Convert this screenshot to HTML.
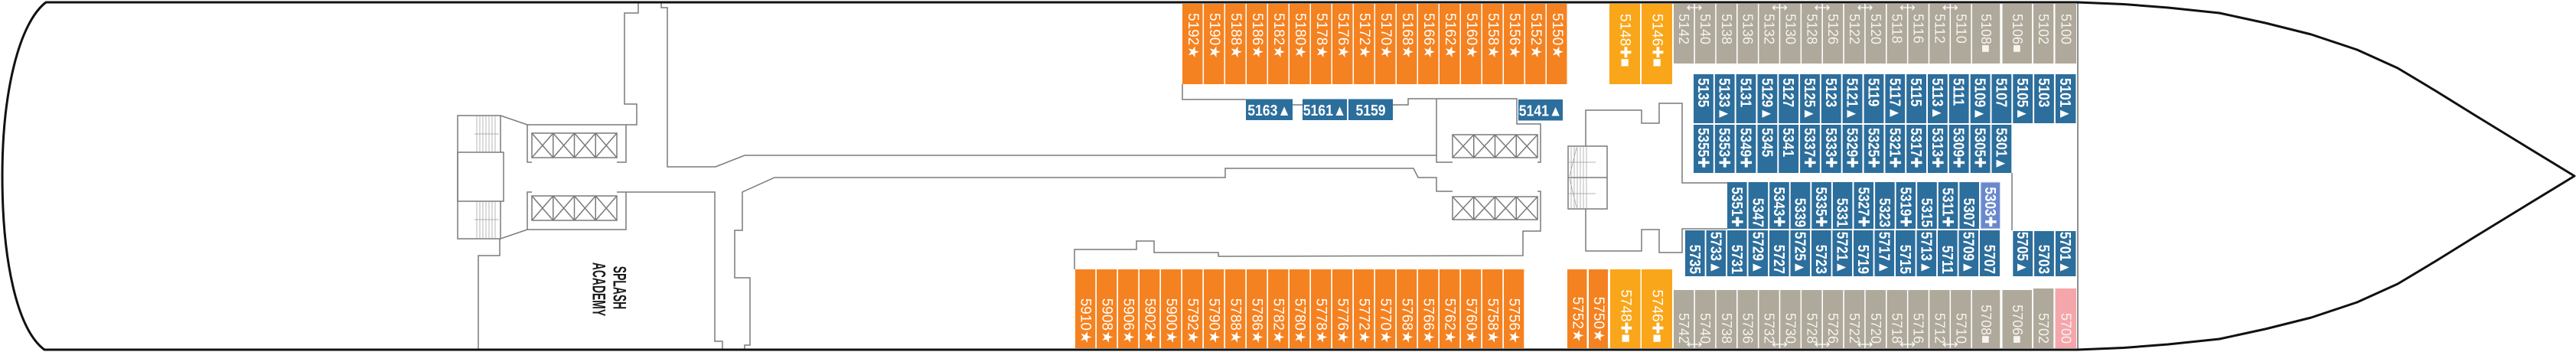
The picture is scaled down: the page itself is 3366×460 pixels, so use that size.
<!DOCTYPE html>
<html><head><meta charset="utf-8"><style>
html,body{margin:0;padding:0;background:#fff}
svg{display:block}
</style></head><body>
<svg width="3366" height="460" viewBox="0 0 3366 460" xmlns="http://www.w3.org/2000/svg">
<style>
.o{fill:#F58220}.y{fill:#FAA61A}.g{fill:#AFA99B}.b{fill:#2C6E9C}.p{fill:#F4A6AB}.h{fill:#6A89CD}
text{font-family:"Liberation Sans","DejaVu Sans",sans-serif;fill:#fff;dominant-baseline:central}
.t19 text{font-size:19px}
.t18 text{font-size:18px;fill:#F6F4EE}
.tb text{font-size:20px;font-weight:bold}
.tm text{font-size:20px;font-weight:bold;text-anchor:middle}
.e text{text-anchor:end}
.dk{fill:#1a1a1a;font-weight:bold;font-size:24px;text-anchor:middle}
.ln{fill:none;stroke:#7a7a7a;stroke-width:1.5}
.st{fill:none;stroke:#9a9a9a;stroke-width:0.7}
.ar{fill:none;stroke:#fff;stroke-width:1.3}
</style>
<rect width="3366" height="460" fill="#fff"/>

<!-- TOP ORANGE ROW -->
<g class="o">
<rect x="1545" y="5" width="26.5" height="105"/><rect x="1573" y="5" width="26.5" height="105"/><rect x="1601" y="5" width="26.5" height="105"/><rect x="1629" y="5" width="26.5" height="105"/><rect x="1657" y="5" width="26.5" height="105"/><rect x="1685" y="5" width="26.5" height="105"/><rect x="1713" y="5" width="26.5" height="105"/><rect x="1741" y="5" width="26.5" height="105"/><rect x="1769" y="5" width="26.5" height="105"/><rect x="1797" y="5" width="26.5" height="105"/><rect x="1825" y="5" width="26.5" height="105"/><rect x="1853" y="5" width="26.5" height="105"/><rect x="1881" y="5" width="26.5" height="105"/><rect x="1909" y="5" width="26.5" height="105"/><rect x="1937" y="5" width="26.5" height="105"/><rect x="1965" y="5" width="26.5" height="105"/><rect x="1993" y="5" width="26.5" height="105"/><rect x="2021" y="5" width="26.5" height="105"/>
</g>
<g class="t19">
<text transform="translate(1558.3 17) rotate(90)">5192★</text>
<text transform="translate(1586.3 17) rotate(90)">5190★</text>
<text transform="translate(1614.3 17) rotate(90)">5188★</text>
<text transform="translate(1642.3 17) rotate(90)">5186★</text>
<text transform="translate(1670.3 17) rotate(90)">5182★</text>
<text transform="translate(1698.3 17) rotate(90)">5180★</text>
<text transform="translate(1726.3 17) rotate(90)">5178★</text>
<text transform="translate(1754.3 17) rotate(90)">5176★</text>
<text transform="translate(1782.3 17) rotate(90)">5172★</text>
<text transform="translate(1810.3 17) rotate(90)">5170★</text>
<text transform="translate(1838.3 17) rotate(90)">5168★</text>
<text transform="translate(1866.3 17) rotate(90)">5166★</text>
<text transform="translate(1894.3 17) rotate(90)">5162★</text>
<text transform="translate(1922.3 17) rotate(90)">5160★</text>
<text transform="translate(1950.3 17) rotate(90)">5158★</text>
<text transform="translate(1978.3 17) rotate(90)">5156★</text>
<text transform="translate(2006.3 17) rotate(90)">5152★</text>
<text transform="translate(2034.3 17) rotate(90)">5150★</text>
</g>

<!-- TOP YELLOW -->
<rect class="y" x="2103" y="5" width="40" height="105"/><rect class="y" x="2145" y="5" width="40" height="105"/>
<g class="t19">
<text transform="translate(2123 18) rotate(90)">5148✚■</text>
<text transform="translate(2165 18) rotate(90)">5146✚■</text>
</g>

<!-- BOTTOM ORANGE ROW -->
<g class="o">
<rect x="1405" y="352" width="26.3" height="103"/><rect x="1433" y="352" width="26.3" height="103"/><rect x="1461" y="352" width="26.3" height="103"/><rect x="1489" y="352" width="26.3" height="103"/><rect x="1517" y="352" width="26.3" height="103"/><rect x="1545" y="352" width="26.3" height="103"/><rect x="1573" y="352" width="26.3" height="103"/><rect x="1601" y="352" width="26.3" height="103"/><rect x="1629" y="352" width="26.3" height="103"/><rect x="1657" y="352" width="26.3" height="103"/><rect x="1685" y="352" width="26.3" height="103"/><rect x="1713" y="352" width="26.3" height="103"/><rect x="1741" y="352" width="26.3" height="103"/><rect x="1769" y="352" width="26.3" height="103"/><rect x="1797" y="352" width="26.3" height="103"/><rect x="1825" y="352" width="26.3" height="103"/><rect x="1853" y="352" width="26.3" height="103"/><rect x="1881" y="352" width="26.3" height="103"/><rect x="1909" y="352" width="26.3" height="103"/><rect x="1937" y="352" width="26.3" height="103"/><rect x="1965" y="352" width="26.3" height="103"/>
<rect x="2048" y="352" width="25.5" height="103"/><rect x="2076" y="352" width="25" height="103"/>
</g>
<rect class="y" x="2104" y="352" width="39.5" height="103"/><rect class="y" x="2145" y="352" width="40" height="103"/>
<g class="t19 e">
<text transform="translate(1418.2 449) rotate(90)">5910★</text>
<text transform="translate(1446.2 449) rotate(90)">5908★</text>
<text transform="translate(1474.2 449) rotate(90)">5906★</text>
<text transform="translate(1502.2 449) rotate(90)">5902★</text>
<text transform="translate(1530.2 449) rotate(90)">5900★</text>
<text transform="translate(1558.2 449) rotate(90)">5792★</text>
<text transform="translate(1586.2 449) rotate(90)">5790★</text>
<text transform="translate(1614.2 449) rotate(90)">5788★</text>
<text transform="translate(1642.2 449) rotate(90)">5786★</text>
<text transform="translate(1670.2 449) rotate(90)">5782★</text>
<text transform="translate(1698.2 449) rotate(90)">5780★</text>
<text transform="translate(1726.2 449) rotate(90)">5778★</text>
<text transform="translate(1754.2 449) rotate(90)">5776★</text>
<text transform="translate(1782.2 449) rotate(90)">5772★</text>
<text transform="translate(1810.2 449) rotate(90)">5770★</text>
<text transform="translate(1838.2 449) rotate(90)">5768★</text>
<text transform="translate(1866.2 449) rotate(90)">5766★</text>
<text transform="translate(1894.2 449) rotate(90)">5762★</text>
<text transform="translate(1922.2 449) rotate(90)">5760★</text>
<text transform="translate(1950.2 449) rotate(90)">5758★</text>
<text transform="translate(1978.2 449) rotate(90)">5756★</text>
<text transform="translate(2060.8 447) rotate(90)">5752★</text>
<text transform="translate(2088.5 447) rotate(90)">5750★</text>
<text transform="translate(2123.8 448) rotate(90)">5748✚■</text>
<text transform="translate(2165 448) rotate(90)">5746✚■</text>
</g>

<!-- TOP GRAY ROW -->
<g class="g">
<rect x="2187" y="5" width="26.3" height="78"/><rect x="2214.9" y="5" width="26.3" height="78"/><rect x="2242.7" y="5" width="26.3" height="78"/><rect x="2270.6" y="5" width="26.3" height="78"/><rect x="2298.4" y="5" width="26.3" height="78"/><rect x="2326.3" y="5" width="26.3" height="78"/><rect x="2354.1" y="5" width="26.3" height="78"/><rect x="2382" y="5" width="26.3" height="78"/><rect x="2409.9" y="5" width="26.3" height="78"/><rect x="2437.7" y="5" width="26.3" height="78"/><rect x="2465.6" y="5" width="26.3" height="78"/><rect x="2493.4" y="5" width="26.3" height="78"/><rect x="2521.3" y="5" width="26.3" height="78"/><rect x="2549.1" y="5" width="26.3" height="78"/><rect x="2577" y="5" width="36.3" height="78"/><rect x="2616.5" y="5" width="38.5" height="78"/><rect x="2657" y="5" width="26.3" height="78"/><rect x="2685.5" y="5" width="27.5" height="78"/>
</g>
<g class="t18">
<text transform="translate(2200.2 18) rotate(90)">5142</text>
<text transform="translate(2228 18) rotate(90)">5140</text>
<text transform="translate(2255.9 18) rotate(90)">5138</text>
<text transform="translate(2283.7 18) rotate(90)">5136</text>
<text transform="translate(2311.6 18) rotate(90)">5132</text>
<text transform="translate(2339.4 18) rotate(90)">5130</text>
<text transform="translate(2367.3 18) rotate(90)">5128</text>
<text transform="translate(2395.2 18) rotate(90)">5126</text>
<text transform="translate(2423 18) rotate(90)">5122</text>
<text transform="translate(2450.9 18) rotate(90)">5120</text>
<text transform="translate(2478.7 18) rotate(90)">5118</text>
<text transform="translate(2506.6 18) rotate(90)">5116</text>
<text transform="translate(2534.4 18) rotate(90)">5112</text>
<text transform="translate(2562.3 18) rotate(90)">5110</text>
<text transform="translate(2595.2 18) rotate(90)">5108■</text>
<text transform="translate(2635.8 18) rotate(90)">5106■</text>
<text transform="translate(2670.2 18) rotate(90)">5102</text>
<text transform="translate(2699.3 18) rotate(90)">5100</text>
</g>

<!-- BOTTOM GRAY ROW -->
<g class="g">
<rect x="2187" y="379" width="26.3" height="76"/><rect x="2214.9" y="379" width="26.3" height="76"/><rect x="2242.7" y="379" width="26.3" height="76"/><rect x="2270.6" y="379" width="26.3" height="76"/><rect x="2298.4" y="379" width="26.3" height="76"/><rect x="2326.3" y="379" width="26.3" height="76"/><rect x="2354.1" y="379" width="26.3" height="76"/><rect x="2382" y="379" width="26.3" height="76"/><rect x="2409.9" y="379" width="26.3" height="76"/><rect x="2437.7" y="379" width="26.3" height="76"/><rect x="2465.6" y="379" width="26.3" height="76"/><rect x="2493.4" y="379" width="26.3" height="76"/><rect x="2521.3" y="379" width="26.3" height="76"/><rect x="2549.1" y="379" width="26.3" height="76"/><rect x="2577" y="379" width="36.3" height="76"/><rect x="2616.5" y="379" width="38.5" height="76"/><rect x="2657" y="377" width="26.3" height="78"/>
</g>
<rect class="p" x="2685.5" y="377" width="27.5" height="78"/>
<g class="t18 e">
<text transform="translate(2200.2 449) rotate(90)">5742</text>
<text transform="translate(2228 449) rotate(90)">5740</text>
<text transform="translate(2255.9 449) rotate(90)">5738</text>
<text transform="translate(2283.7 449) rotate(90)">5736</text>
<text transform="translate(2311.6 449) rotate(90)">5732</text>
<text transform="translate(2339.4 449) rotate(90)">5730</text>
<text transform="translate(2367.3 449) rotate(90)">5728</text>
<text transform="translate(2395.2 449) rotate(90)">5726</text>
<text transform="translate(2423 449) rotate(90)">5722</text>
<text transform="translate(2450.9 449) rotate(90)">5720</text>
<text transform="translate(2478.7 449) rotate(90)">5718</text>
<text transform="translate(2506.6 449) rotate(90)">5716</text>
<text transform="translate(2534.4 449) rotate(90)">5712</text>
<text transform="translate(2562.3 449) rotate(90)">5710</text>
<text transform="translate(2595.2 449) rotate(90)">5708■</text>
<text transform="translate(2635.8 449) rotate(90)">5706■</text>
<text transform="translate(2670.2 449) rotate(90)">5702</text>
<text transform="translate(2699.3 449) rotate(90)">5700</text>
</g>

<!-- connecting arrows -->
<g class="ar">
<path d="M2205 10H2223M2208 7L2205 10L2208 13M2220 7L2223 10L2220 13"/>
<path d="M2316.5 10H2334.5M2319.5 7L2316.5 10L2319.5 13M2331.5 7L2334.5 10L2331.5 13"/>
<path d="M2372 10H2390M2375 7L2372 10L2375 13M2387 7L2390 10L2387 13"/>
<path d="M2428 10H2446M2431 7L2428 10L2431 13M2443 7L2446 10L2443 13"/>
<path d="M2483.5 10H2501.5M2486.5 7L2483.5 10L2486.5 13M2498.5 7L2501.5 10L2498.5 13"/>
<path d="M2539.3 10H2557.3M2542.3 7L2539.3 10L2542.3 13M2554.3 7L2557.3 10L2554.3 13"/>
<path d="M2205 450H2223M2208 447L2205 450L2208 453M2220 447L2223 450L2220 453"/>
<path d="M2316.5 450H2334.5M2319.5 447L2316.5 450L2319.5 453M2331.5 447L2334.5 450L2331.5 453"/>
<path d="M2372 450H2390M2375 447L2372 450L2375 453M2387 447L2390 450L2387 453"/>
<path d="M2428 450H2446M2431 447L2428 450L2431 453M2443 447L2446 450L2443 453"/>
<path d="M2483.5 450H2501.5M2486.5 447L2483.5 450L2486.5 453M2498.5 447L2501.5 450L2498.5 453"/>
<path d="M2539.3 450H2557.3M2542.3 447L2539.3 450L2542.3 453M2554.3 447L2557.3 450L2554.3 453"/>
</g>

<!-- BLUE ROW 1 -->
<g class="b">
<rect x="2213" y="97" width="25.8" height="64"/><rect x="2240.8" y="97" width="25.8" height="64"/><rect x="2268.6" y="97" width="25.8" height="64"/><rect x="2296.5" y="97" width="25.8" height="64"/><rect x="2324.3" y="97" width="25.8" height="64"/><rect x="2352.1" y="97" width="25.8" height="64"/><rect x="2379.9" y="97" width="25.8" height="64"/><rect x="2407.7" y="97" width="25.8" height="64"/><rect x="2435.6" y="97" width="25.8" height="64"/><rect x="2463.4" y="97" width="25.8" height="64"/><rect x="2491.2" y="97" width="25.8" height="64"/><rect x="2519" y="97" width="25.8" height="64"/><rect x="2546.8" y="97" width="25.8" height="64"/><rect x="2574.7" y="97" width="25.8" height="64"/><rect x="2602.5" y="97" width="25.8" height="64"/><rect x="2630.3" y="97" width="25.8" height="64"/><rect x="2658.1" y="97" width="25.8" height="64"/><rect x="2685.9" y="97" width="26.5" height="64"/>
</g>
<g class="tb">
<text transform="translate(2225.9 102) rotate(90) scale(0.86 1)">5135</text>
<text transform="translate(2253.7 102) rotate(90) scale(0.86 1)">5133▲</text>
<text transform="translate(2281.5 102) rotate(90) scale(0.86 1)">5131</text>
<text transform="translate(2309.4 102) rotate(90) scale(0.86 1)">5129▲</text>
<text transform="translate(2337.2 102) rotate(90) scale(0.86 1)">5127</text>
<text transform="translate(2365 102) rotate(90) scale(0.86 1)">5125▲</text>
<text transform="translate(2392.8 102) rotate(90) scale(0.86 1)">5123</text>
<text transform="translate(2420.6 102) rotate(90) scale(0.86 1)">5121▲</text>
<text transform="translate(2448.5 102) rotate(90) scale(0.86 1)">5119</text>
<text transform="translate(2476.3 102) rotate(90) scale(0.86 1)">5117▲</text>
<text transform="translate(2504.1 102) rotate(90) scale(0.86 1)">5115</text>
<text transform="translate(2531.9 102) rotate(90) scale(0.86 1)">5113▲</text>
<text transform="translate(2559.7 102) rotate(90) scale(0.86 1)">5111</text>
<text transform="translate(2587.6 102) rotate(90) scale(0.86 1)">5109▲</text>
<text transform="translate(2615.4 102) rotate(90) scale(0.86 1)">5107</text>
<text transform="translate(2643.2 102) rotate(90) scale(0.86 1)">5105▲</text>
<text transform="translate(2671 102) rotate(90) scale(0.86 1)">5103</text>
<text transform="translate(2698.8 102) rotate(90) scale(0.86 1)">5101▲</text>
</g>

<!-- BLUE ROW 2 -->
<g class="b">
<rect x="2213" y="163" width="25.8" height="63"/><rect x="2240.8" y="163" width="25.8" height="63"/><rect x="2268.6" y="163" width="25.8" height="63"/><rect x="2296.5" y="163" width="25.8" height="63"/><rect x="2324.3" y="163" width="25.8" height="63"/><rect x="2352.1" y="163" width="25.8" height="63"/><rect x="2379.9" y="163" width="25.8" height="63"/><rect x="2407.7" y="163" width="25.8" height="63"/><rect x="2435.6" y="163" width="25.8" height="63"/><rect x="2463.4" y="163" width="25.8" height="63"/><rect x="2491.2" y="163" width="25.8" height="63"/><rect x="2519" y="163" width="25.8" height="63"/><rect x="2546.8" y="163" width="25.8" height="63"/><rect x="2574.7" y="163" width="25.8" height="63"/><rect x="2602.5" y="163" width="25.8" height="63"/>
</g>
<g class="tb">
<text transform="translate(2225.9 167) rotate(90) scale(0.86 1)">5355✚</text>
<text transform="translate(2253.7 167) rotate(90) scale(0.86 1)">5353✚</text>
<text transform="translate(2281.5 167) rotate(90) scale(0.86 1)">5349✚</text>
<text transform="translate(2309.4 167) rotate(90) scale(0.86 1)">5345</text>
<text transform="translate(2337.2 167) rotate(90) scale(0.86 1)">5341</text>
<text transform="translate(2365 167) rotate(90) scale(0.86 1)">5337✚</text>
<text transform="translate(2392.8 167) rotate(90) scale(0.86 1)">5333✚</text>
<text transform="translate(2420.6 167) rotate(90) scale(0.86 1)">5329✚</text>
<text transform="translate(2448.5 167) rotate(90) scale(0.86 1)">5325✚</text>
<text transform="translate(2476.3 167) rotate(90) scale(0.86 1)">5321✚</text>
<text transform="translate(2504.1 167) rotate(90) scale(0.86 1)">5317✚</text>
<text transform="translate(2531.9 167) rotate(90) scale(0.86 1)">5313✚</text>
<text transform="translate(2559.7 167) rotate(90) scale(0.86 1)">5309✚</text>
<text transform="translate(2587.6 167) rotate(90) scale(0.86 1)">5305✚</text>
<text transform="translate(2615.4 167) rotate(90) scale(0.86 1)">5301▲</text>
</g>

<!-- BLUE ROW 3 -->
<g class="b">
<rect x="2257" y="238" width="25.6" height="61"/><rect x="2284.6" y="238" width="25.6" height="61"/><rect x="2312.2" y="238" width="25.6" height="61"/><rect x="2339.7" y="238" width="25.6" height="61"/><rect x="2367.3" y="238" width="25.6" height="61"/><rect x="2394.9" y="238" width="25.6" height="61"/><rect x="2422.5" y="238" width="25.6" height="61"/><rect x="2450.1" y="238" width="25.6" height="61"/><rect x="2477.6" y="238" width="25.6" height="61"/><rect x="2505.2" y="238" width="25.6" height="61"/><rect x="2532.8" y="238" width="25.6" height="61"/><rect x="2560.4" y="238" width="25.6" height="61"/>
</g>
<rect class="h" x="2588" y="238" width="25.6" height="61" stroke="#dfe6f5" stroke-width="1"/>
<g class="tb e">
<text transform="translate(2269.8 297) rotate(90) scale(0.86 1)">5351✚</text>
<text transform="translate(2297.4 297) rotate(90) scale(0.86 1)">5347</text>
<text transform="translate(2325 297) rotate(90) scale(0.86 1)">5343✚</text>
<text transform="translate(2352.5 297) rotate(90) scale(0.86 1)">5339</text>
<text transform="translate(2380.1 297) rotate(90) scale(0.86 1)">5335✚</text>
<text transform="translate(2407.7 297) rotate(90) scale(0.86 1)">5331</text>
<text transform="translate(2435.3 297) rotate(90) scale(0.86 1)">5327✚</text>
<text transform="translate(2462.9 297) rotate(90) scale(0.86 1)">5323</text>
<text transform="translate(2490.4 297) rotate(90) scale(0.86 1)">5319✚</text>
<text transform="translate(2518 297) rotate(90) scale(0.86 1)">5315</text>
<text transform="translate(2545.6 297) rotate(90) scale(0.86 1)">5311✚</text>
<text transform="translate(2573.2 297) rotate(90) scale(0.86 1)">5307</text>
<text transform="translate(2600.8 297) rotate(90) scale(0.86 1)">5303✚</text>
</g>

<!-- BLUE ROW 4 -->
<g class="b">
<rect x="2202" y="301" width="25.6" height="60"/><rect x="2229.5" y="301" width="25.6" height="60"/><rect x="2257" y="301" width="25.6" height="60"/><rect x="2284.5" y="301" width="25.6" height="60"/><rect x="2312" y="301" width="25.6" height="60"/><rect x="2339.5" y="301" width="25.6" height="60"/><rect x="2367" y="301" width="25.6" height="60"/><rect x="2394.5" y="301" width="25.6" height="60"/><rect x="2422" y="301" width="25.6" height="60"/><rect x="2449.5" y="301" width="25.6" height="60"/><rect x="2477" y="301" width="25.6" height="60"/><rect x="2504.5" y="301" width="25.6" height="60"/><rect x="2532" y="301" width="25.6" height="60"/><rect x="2559.5" y="301" width="25.6" height="60"/><rect x="2587" y="301" width="26" height="60"/>
<rect x="2630.3" y="302" width="25.8" height="59"/><rect x="2658.1" y="302" width="25.8" height="59"/><rect x="2685.9" y="302" width="26.5" height="59"/>
</g>
<g class="tb e">
<text transform="translate(2214.8 358) rotate(90) scale(0.86 1)">5735</text>
<text transform="translate(2242.3 358) rotate(90) scale(0.86 1)">5733▲</text>
<text transform="translate(2269.8 358) rotate(90) scale(0.86 1)">5731</text>
<text transform="translate(2297.3 358) rotate(90) scale(0.86 1)">5729▲</text>
<text transform="translate(2324.8 358) rotate(90) scale(0.86 1)">5727</text>
<text transform="translate(2352.3 358) rotate(90) scale(0.86 1)">5725▲</text>
<text transform="translate(2379.8 358) rotate(90) scale(0.86 1)">5723</text>
<text transform="translate(2407.3 358) rotate(90) scale(0.86 1)">5721▲</text>
<text transform="translate(2434.8 358) rotate(90) scale(0.86 1)">5719</text>
<text transform="translate(2462.3 358) rotate(90) scale(0.86 1)">5717▲</text>
<text transform="translate(2489.8 358) rotate(90) scale(0.86 1)">5715</text>
<text transform="translate(2517.3 358) rotate(90) scale(0.86 1)">5713▲</text>
<text transform="translate(2544.8 358) rotate(90) scale(0.86 1)">5711</text>
<text transform="translate(2572.3 358) rotate(90) scale(0.86 1)">5709▲</text>
<text transform="translate(2599.8 358) rotate(90) scale(0.86 1)">5707</text>
<text transform="translate(2643.2 358) rotate(90) scale(0.86 1)">5705▲</text>
<text transform="translate(2671 358) rotate(90) scale(0.86 1)">5703</text>
<text transform="translate(2698.8 358) rotate(90) scale(0.86 1)">5701▲</text>
</g>

<!-- MID BLUE HORIZONTAL -->
<g class="b">
<rect x="1628" y="129.5" width="61" height="27.5"/><rect x="1702" y="129.5" width="58" height="27.5"/><rect x="1762" y="129.5" width="58" height="27.5"/><rect x="1984" y="130" width="58" height="27.5"/>
</g>
<g class="tm">
<text transform="translate(1658.5 144) scale(0.88 1)">5163▲</text>
<text transform="translate(1731 144) scale(0.88 1)">5161▲</text>
<text transform="translate(1791 144) scale(0.88 1)">5159</text>
<text transform="translate(2013 144.5) scale(0.88 1)">5141▲</text>
</g>

<!-- WALL LINES -->
<g class="ln">
<polyline points="834,4 834,17 816,17 816,136 832,136 832,163 689,163 654,151 598,151 598,312 654,312 689,300 818,300 818,251 934,251 934,446 944,446 944,457"/>
<polyline points="689,163 689,212 695,212"/>
<polyline points="818,163 818,212 806,212"/>
<polyline points="695,251 689,251 689,300"/>
<polyline points="806,251 818,251"/>
<rect x="598" y="199" width="60" height="64"/>
<polyline points="654,151 654,199"/>
<polyline points="654,263 654,312"/>
<polyline points="653,312 653,334 625,334 625,457"/>
<polyline points="864,4 864,10 872,10 872,218 935,218 973,203 1877,203"/>
<polyline points="1877,129 1877,212 1898,212"/>
<polyline points="1820,137 1840,137 1840,129 1982,129 1982,162 2013,162 2013,212 2009,212"/>
<polyline points="1689,137 1702,137"/>
<polyline points="1545,110 1545,130 1628,130"/>
<polyline points="1898,250 1877,250 1877,232 1853,232 1847,220 1601,220 1601,232 1012,232 970,251 970,301 960,301 960,363 980,363 980,451 973,451 973,457"/>
<polyline points="2009,250 2013,250 2013,302 1990,302 1990,334 1592,335 1592,330 1508,330 1508,315 1485,315 1485,326 1404,326 1404,352"/>
<polyline points="2072,191 2072,144 2145,144 2145,161 2168,161 2168,135 2198,135 2198,239 2257,239"/>
<polyline points="2257,299 2198,299 2198,330 2168,330 2168,300 2145,300 2145,328 2072,328 2072,273"/>
<rect x="2049" y="191" width="51" height="82"/>
<line x1="2049" y1="232" x2="2100" y2="232"/>
<line x1="2629" y1="226" x2="2629" y2="301"/>
<line x1="2715" y1="3" x2="2715" y2="457" stroke="#8f8f8f" stroke-width="2"/>
</g>

<!-- ELEVATORS -->
<g class="ln">
<rect x="695" y="174" width="111" height="32"/>
<path d="M722.75 174V206M750.5 174V206M778.25 174V206M695 174L722.75 206M722.75 174L695 206M722.75 174L750.5 206M750.5 174L722.75 206M750.5 174L778.25 206M778.25 174L750.5 206M778.25 174L806 206M806 174L778.25 206"/>
<rect x="695" y="256" width="111" height="32"/>
<path d="M722.75 256V288M750.5 256V288M778.25 256V288M695 256L722.75 288M722.75 256L695 288M722.75 256L750.5 288M750.5 256L722.75 288M750.5 256L778.25 288M778.25 256L750.5 288M778.25 256L806 288M806 256L778.25 288"/>
<rect x="1898" y="176" width="111" height="30"/>
<path d="M1925.75 176V206M1953.5 176V206M1981.25 176V206M1898 176L1925.75 206M1925.75 176L1898 206M1925.75 176L1953.5 206M1953.5 176L1925.75 206M1953.5 176L1981.25 206M1981.25 176L1953.5 206M1981.25 176L2009 206M2009 176L1981.25 206"/>
<rect x="1898" y="257" width="111" height="30"/>
<path d="M1925.75 257V287M1953.5 257V287M1981.25 257V287M1898 257L1925.75 287M1925.75 257L1898 287M1925.75 257L1953.5 287M1953.5 257L1925.75 287M1953.5 257L1981.25 287M1981.25 257L1953.5 287M1981.25 257L2009 287M2009 257L1981.25 287"/>
</g>

<!-- STAIR DETAILS -->
<g class="st">
<path d="M623 151V199M627 151V199M631 151V199M635 151V199M639 151V199M643 151V199M647 151V199M623 263V312M627 263V312M631 263V312M635 263V312M639 263V312M643 263V312M647 263V312M620 175H652M620 287H652"/>
<path d="M2053 191V273M2057 191V273M2061 191V273M2065 191V273M2069 191V273M2073 191V273M2060 193L2051 230M2051 234L2060 271M2050 212H2085M2050 253H2085"/>
</g>

<!-- SPLASH ACADEMY -->
<text class="dk" transform="translate(809 376) rotate(90) scale(0.58 1)">SPLASH</text>
<text class="dk" transform="translate(782 378) rotate(90) scale(0.58 1)">ACADEMY</text>

<!-- HULL -->
<path fill="none" stroke="#111" stroke-width="3" stroke-linejoin="round" d="M60 3 L2715 3 L2775 5.5 L2833 10 L2900 17 L2960 30 L3020 45 L3080 65 L3133 89 L3183 119 L3233 150 L3300 191 L3364 230 L3300 269 L3233 310 L3183 341 L3133 371 L3080 395 L3020 415 L2960 430 L2900 443 L2833 450 L2775 454.5 L2715 457 L58 457 C22 430 3 340 3 230 C3 120 25 30 60 3 Z"/>
</svg>
</body></html>
